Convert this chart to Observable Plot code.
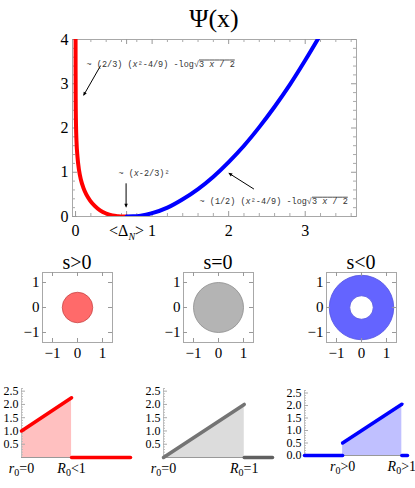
<!DOCTYPE html>
<html><head><meta charset="utf-8">
<script src="https://cdn.jsdelivr.net/npm/d3@7"></script>
<script src="https://cdn.jsdelivr.net/npm/@observablehq/plot@0.6"></script>
<style>
body{margin:0;background:#fff;}
#root{position:relative;width:415px;height:488px;overflow:hidden;font-family:"Liberation Serif",serif;background:#fff;}
.ttl{position:absolute;transform:translate(-50%,-50%);white-space:nowrap;color:#000;line-height:1;font-family:"Liberation Serif",serif;}
</style></head><body><div id="root"></div>
<script>
// ---------- main panel: Psi(x) ----------
const mainTitle = "Ψ(x)";
const redX = [0.0001, 0.0005, 0.002, 0.006, 0.012, 0.025, 0.045, 0.07, 0.1, 0.14, 0.19, 0.25, 0.32, 0.4, 0.48, 0.56, 0.62, 0.667];
const redY = [4.1, 3.3, 2.61, 2.06, 1.71, 1.35, 1.05, 0.83, 0.66, 0.50, 0.36, 0.24, 0.14, 0.067, 0.022, 0.006, 0.001, 0];
const blueX = [0.667, 0.75, 0.85, 1.0, 1.2, 1.4, 1.6, 1.8, 2.0, 2.2, 2.4, 2.6, 2.8, 3.0, 3.2];
const blueY = [0, 0.003, 0.018, 0.075, 0.20, 0.39, 0.62, 0.90, 1.23, 1.60, 2.02, 2.48, 2.98, 3.53, 4.11];
const mainXTicks = [0, 2/3, 1, 2, 3];
const mainXTickLabels = ["0", "<ΔN>", "1", "2", "3"];
const mainXMinor = [0.2, 0.4, 0.6, 0.8, 1.2, 1.4, 1.6, 1.8, 2.2, 2.4, 2.6, 2.8, 3.2, 3.4, 3.6];
const mainYTicks = [0, 1, 2, 3, 4];
const mainYTickLabels = ["0", "1", "2", "3", "4"];
const mainYMinor = [0.2, 0.4, 0.6, 0.8, 1.2, 1.4, 1.6, 1.8, 2.2, 2.4, 2.6, 2.8, 3.2, 3.4, 3.6, 3.8];
const annText = ["~ (2/3) (x²-4/9) -log√3 x / 2", "~ (x-2/3)²", "~ (1/2) (x²-4/9) -log√3 x / 2"];
const annX = [0.144, 0.56, 1.62];
const annY = [3.45, 0.98, 0.35];
const arrX1 = [0.327, 0.66, 2.33];
const arrY1 = [3.41, 0.75, 0.62];
const arrX2 = [0.109, 0.66, 2.01];
const arrY2 = [2.75, 0.23, 0.97];

// ---------- middle row: disks ----------
const diskTitles = ["s>0", "s=0", "s<0"];
const diskOuter = [0.61, 1.0, 1.29];
const diskInner = [0, 0, 0.47];
const diskFill = ["#ff6a6a", "#b4b4b4", "#6464ff"];
const diskStroke = ["#c84848", "#8a8a8a", "#5050e0"];
const diskTicks = [-1, 0, 1];
const diskTickLabels = ["−1", "0", "1"];

// ---------- bottom row: profiles ----------
const profSlopeX = [[0, 0.85], [0, 1.0], [0.47, 1.2]];
const profSlopeY = [[1.0, 2.25], [0, 2.0], [0.5, 2.05]];
const profZeroX = [[[0.85, 1.85]], [[1.0, 1.35]], [[0, 0.47], [1.2, 1.27]]];
const profXMax = [1.85, 1.35, 1.27];
const profLabelX = [[0, 0.85], [0, 1.0], [0.47, 1.2]];
const profLabels = [["r0=0", "R0<1"], ["r0=0", "R0=1"], ["r0>0", "R0>1"]];
const profYTicks = [[0.5, 1, 1.5, 2, 2.5], [0.5, 1, 1.5, 2, 2.5], [0, 0.5, 1, 1.5, 2, 2.5]];
const profYMinor = [0.1, 0.2, 0.3, 0.4, 0.6, 0.7, 0.8, 0.9, 1.1, 1.2, 1.3, 1.4, 1.6, 1.7, 1.8, 1.9, 2.1, 2.2, 2.3, 2.4, 2.6];
const profStroke = ["#ff0000", "#747474", "#0000ff"];
const profFill = ["#ffc0c0", "#dcdcdc", "#c0c0ff"];
const profZeroStroke = ["#ff0000", "#606060", "#0000ff"];

// ================= helpers =================
const root = document.getElementById("root");
const NS = "http://www.w3.org/2000/svg";
function place(svg, left, top) {
  svg.style.position = "absolute";
  svg.style.left = left + "px";
  svg.style.top = top + "px";
  svg.style.background = "transparent";
  svg.style.maxWidth = "none";
  root.appendChild(svg);
}
function title(txt, cx, cy, size) {
  const d = document.createElement("div");
  d.className = "ttl";
  d.textContent = txt;
  d.style.left = cx + "px";
  d.style.top = cy + "px";
  d.style.fontSize = size + "px";
  root.appendChild(d);
}
function tspan(parent, s, attrs) {
  const t = document.createElementNS(NS, "tspan");
  t.textContent = s;
  for (const k in attrs) t.setAttribute(k, attrs[k]);
  parent.appendChild(t);
  return t;
}
function mono(t, s) {
  t.textContent = "";
  let parent = t;
  for (const ch of s) {
    if (ch === "√") {
      parent.appendChild(document.createTextNode("√"));
      const o = document.createElementNS(NS, "tspan");
      o.setAttribute("text-decoration", "overline");
      o.style.textDecoration = "overline";
      parent.appendChild(o);
      parent = o;
    } else if (ch === "x") {
      tspan(parent, "x", {"font-style": "italic"});
    } else {
      parent.appendChild(document.createTextNode(ch));
    }
  }
}
function subLabel(t, s) {
  t.textContent = "";
  tspan(t, s[0], {"font-style": "italic"});
  tspan(t, s[1], {"font-size": "10", "dy": "3"});
  tspan(t, s.slice(2), {"dy": "-3"});
}

// ================= main plot =================
const red = redX.map((x, i) => ({x, y: redY[i]}));
const blue = blueX.map((x, i) => ({x, y: blueY[i]}));
const ann = annText.map((t, i) => ({t, x: annX[i], y: annY[i]}));
const arrows = arrX1.map((x1, i) => ({x1, y1: arrY1[i], x2: arrX2[i], y2: arrY2[i]}));
const mW = 415, mH = 245, mL = 72, mR = 59, mT = 39, mB = 29;
const pw = mW - mL - mR, ph = mH - mT - mB;
const main = Plot.plot({
  width: mW, height: mH,
  marginLeft: mL, marginRight: mR, marginTop: mT, marginBottom: mB,
  x: {domain: [-0.04, 3.67]},
  y: {domain: [0, 4]},
  style: {font: "16px 'Liberation Serif', serif", background: "transparent"},
  marks: [
    Plot.frame({stroke: "#a8a8a8"}),
    Plot.tickX(mainXTicks, {x: d => d, stroke: "#999", insetTop: ph - 5}),
    Plot.tickX(mainXMinor, {x: d => d, stroke: "#aaa", insetTop: ph - 3}),
    Plot.tickX(mainXTicks, {x: d => d, stroke: "#999", insetBottom: ph - 5}),
    Plot.tickX(mainXMinor, {x: d => d, stroke: "#aaa", insetBottom: ph - 3}),
    Plot.tickY(mainYTicks, {y: d => d, stroke: "#999", insetRight: pw - 5}),
    Plot.tickY(mainYMinor, {y: d => d, stroke: "#aaa", insetRight: pw - 3}),
    Plot.tickY(mainYTicks, {y: d => d, stroke: "#999", insetLeft: pw - 5}),
    Plot.tickY(mainYMinor, {y: d => d, stroke: "#aaa", insetLeft: pw - 3}),
    Plot.line(red, {x: "x", y: "y", stroke: "#ff0000", strokeWidth: 4, curve: "monotone-x", clip: true}),
    Plot.line(blue, {x: "x", y: "y", stroke: "#0000ff", strokeWidth: 4, curve: "monotone-x", clip: true}),
    Plot.link(arrows, {x1: "x1", y1: "y1", x2: "x2", y2: "y2", stroke: "#000", strokeWidth: 1, markerEnd: "arrow"}),
    Plot.text(ann, {x: "x", y: "y", text: "t", textAnchor: "start", fontFamily: "'Liberation Mono', monospace", fontSize: 8.5, fill: "#333"}),
    Plot.axisX({ticks: mainXTicks, tickFormat: d => mainXTickLabels[mainXTicks.indexOf(d)], tickSize: 0, tickPadding: 8, label: null}),
    Plot.axisY({ticks: mainYTicks, tickFormat: d => mainYTickLabels[mainYTicks.indexOf(d)], tickSize: 0, tickPadding: 4, label: null})
  ]
});
main.querySelectorAll("text").forEach(t => {
  const s = t.textContent;
  if (annText.includes(s)) mono(t, s);
  else if (s === "<ΔN>") {
    t.textContent = "";
    tspan(t, "<Δ", {});
    tspan(t, "N", {"font-style": "italic", "font-size": "10", "dy": "4"});
    tspan(t, ">", {"dy": "-4"});
  }
});
main.querySelectorAll("marker").forEach(m => {
  m.setAttribute("fill", "#000");
  m.setAttribute("stroke", "none");
  const p = m.querySelector("path");
  if (p) p.setAttribute("d", "M-4,-2.6L2,0L-4,2.6Z");
});
place(main, 0, 0);
title(mainTitle, 214, 19, 26);

// ================= disks =================
const diskLeft = [12, 153, 296];
const diskCenters = [77, 218, 361];
diskTitles.forEach((tt, k) => {
  const dW = 110, dH = 105, dL = 30, dR = 10, dT = 7, dB = 28;
  const dpw = dW - dL - dR, dph = dH - dT - dB;
  const disks = [{r: diskOuter[k], f: diskFill[k], s: diskStroke[k]}];
  if (diskInner[k] > 0) disks.push({r: diskInner[k], f: "#ffffff", s: diskStroke[k]});
  const p = Plot.plot({
    width: dW, height: dH,
    marginLeft: dL, marginRight: dR, marginTop: dT, marginBottom: dB,
    x: {domain: [-1.4, 1.4]},
    y: {domain: [-1.4, 1.4]},
    r: {type: "linear", domain: [0, 1.4], range: [0, dpw / 2]},
    style: {font: "15px 'Liberation Serif', serif", background: "transparent"},
    marks: [
      Plot.dot(disks, {x: () => 0, y: () => 0, r: "r", fill: "f", stroke: "s", strokeWidth: 0.8}),
      Plot.frame({stroke: "#a8a8a8"}),
      Plot.tickX(diskTicks, {x: d => d, stroke: "#999", insetTop: dph - 4}),
      Plot.tickX(diskTicks, {x: d => d, stroke: "#999", insetBottom: dph - 4}),
      Plot.tickY(diskTicks, {y: d => d, stroke: "#999", insetRight: dpw - 4}),
      Plot.tickY(diskTicks, {y: d => d, stroke: "#999", insetLeft: dpw - 4}),
      Plot.axisX({ticks: diskTicks, tickFormat: d => diskTickLabels[diskTicks.indexOf(d)], tickSize: 0, tickPadding: 5, label: null}),
      Plot.axisY({ticks: diskTicks, tickFormat: d => diskTickLabels[diskTicks.indexOf(d)], tickSize: 0, tickPadding: 3, label: null})
    ]
  });
  place(p, diskLeft[k], 265);
  title(tt, diskCenters[k], 262, 20);
});

// ================= profiles =================
const profLeft = [0, 140, 275];
const profML = [21, 23, 29];
const profPW = [109, 109, 103];
const profMB = [31, 31, 33];
const profMT = [8, 8, 10];
profLabels.forEach((labs, k) => {
  const W = 140, H = 108, L = profML[k], R = W - L - profPW[k], T = profMT[k], B = profMB[k];
  const ppw = profPW[k];
  const slope = profSlopeX[k].map((x, i) => ({x, y: profSlopeY[k][i]}));
  const zeros = profZeroX[k].map(seg => seg.map(x => ({x, y: 0})));
  const p = Plot.plot({
    width: W, height: H,
    marginLeft: L, marginRight: R, marginTop: T, marginBottom: B,
    x: {domain: [0, profXMax[k]]},
    y: {domain: [0, 2.6]},
    style: {font: "11px 'Liberation Serif', serif", background: "transparent"},
    marks: [
      Plot.areaY(slope, {x: "x", y: "y", fill: profFill[k]}),
      Plot.ruleY([0], {x1: profSlopeX[k][0], x2: profSlopeX[k][1], stroke: "#999", strokeWidth: 1}),
      Plot.ruleX([0], {stroke: "#c0c0c0"}),
      Plot.tickY(profYTicks[k], {y: d => d, stroke: "#aaa", insetRight: ppw - 4}),
      Plot.tickY(profYMinor, {y: d => d, stroke: "#bbb", insetRight: ppw - 2}),
      Plot.line(slope, {x: "x", y: "y", stroke: profStroke[k], strokeWidth: 3.5}),
      ...zeros.map(z => Plot.line(z, {x: "x", y: "y", stroke: profZeroStroke[k], strokeWidth: 3.5})),
      Plot.axisX({ticks: profLabelX[k], tickFormat: d => labs[profLabelX[k].indexOf(d)], tickSize: 0, tickPadding: 6, label: null, fontSize: 14}),
      Plot.axisY({ticks: profYTicks[k], tickFormat: d => d.toFixed(1), tickSize: 0, tickPadding: 3, label: null, fontSize: 12})
    ]
  });
  p.querySelectorAll("text").forEach(t => {
    if (labs.includes(t.textContent)) subLabel(t, t.textContent);
  });
  place(p, profLeft[k], 380);
});
</script>
</body></html>
